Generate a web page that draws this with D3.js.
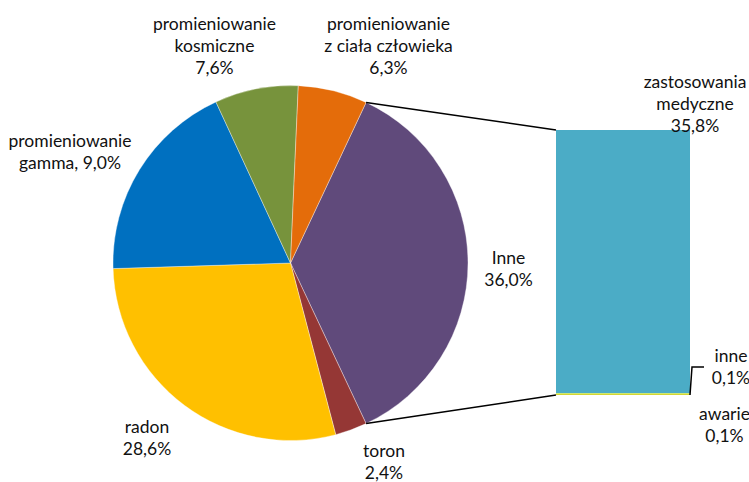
<!DOCTYPE html>
<html>
<head>
<meta charset="utf-8">
<script src="https://cdn.jsdelivr.net/npm/d3@7"></script>
<style>
  html, body { margin: 0; padding: 0; background: #fff; }
  svg { display: block; }
  text { font-family: Lato, "Open Sans", sans-serif; fill: #111; }
</style>
</head>
<body>
<svg id="chart" width="749" height="482"></svg>
<script>
// ---- data ----
const pieCategories = ["Inne", "toron", "radon", "promieniowanie gamma", "promieniowanie kosmiczne", "promieniowanie z ciała człowieka"];
const pieValues = [36.0, 2.9, 28.6, 18.6, 7.6, 6.3];
const pieLabelLines = [
  ["Inne", "36,0%"],
  ["toron", "2,4%"],
  ["radon", "28,6%"],
  ["promieniowanie", "gamma, 9,0%"],
  ["promieniowanie", "kosmiczne", "7,6%"],
  ["promieniowanie", "z ciała człowieka", "6,3%"]
];
const pieColors = ["#604A7B", "#953735", "#FFC000", "#0070C0", "#77933C", "#E46C0A"];

const barCategories = ["zastosowania medyczne", "inne", "awarie"];
const barValues = [35.8, 0.1, 0.1];
const barLabelLines = [
  ["zastosowania", "medyczne", "35,8%"],
  ["inne", "0,1%"],
  ["awarie", "0,1%"]
];
const barColors = ["#4BACC6", "#FFFF00", "#C8C800"];

// ---- layout ----
const svg = d3.select("#chart");
const cx = 290.5, cy = 263, R = 177.5;
const fontSize = 17.5, lineH = 22;

const total = d3.sum(pieValues);
const inneSpan = pieValues[0] / total * 2 * Math.PI;
const start = Math.PI / 2 - inneSpan / 2;

const pie = d3.pie().sort(null).value(d => d)
  .startAngle(start).endAngle(start + 2 * Math.PI);
const arcs = pie(pieValues);
const arc = d3.arc().innerRadius(0).outerRadius(R);

const g = svg.append("g").attr("transform", `translate(${cx},${cy})`);
g.selectAll("path").data(arcs).join("path")
  .attr("d", arc)
  .attr("fill", (d, i) => pieColors[i])
  .attr("stroke", "#ffffff")
  .attr("stroke-width", 0.6)
  .attr("stroke-opacity", 0.6);

// ---- bar (second plot) ----
const barX0 = 556, barX1 = 690;
const barTotal = d3.sum(barValues);
const y = d3.scaleLinear().domain([0, barTotal]).range([395, 130]);
let cum = 0;
const barStack = barValues.map((v, i) => {
  const s = { i, top: y(barTotal - cum), bottom: y(barTotal - cum - v) };
  cum += v;
  return s;
});
svg.append("g").selectAll("rect").data(barStack).join("rect")
  .attr("x", barX0)
  .attr("width", barX1 - barX0)
  .attr("y", d => d.top)
  .attr("height", d => Math.max(d.bottom - d.top, 0))
  .attr("fill", d => barColors[d.i]);

// ---- connector lines ----
const a0 = arcs[0].startAngle, a1 = arcs[0].endAngle;
const p0 = [cx + R * Math.sin(a0), cy - R * Math.cos(a0)];
const p1 = [cx + R * Math.sin(a1), cy - R * Math.cos(a1)];
svg.append("line").attr("x1", p0[0]).attr("y1", p0[1]).attr("x2", barX0).attr("y2", y(barTotal))
  .attr("stroke", "#000").attr("stroke-width", 1.5);
svg.append("line").attr("x1", p1[0]).attr("y1", p1[1]).attr("x2", barX0).attr("y2", y(0))
  .attr("stroke", "#000").attr("stroke-width", 1.5);

// leader line for "inne"
svg.append("path")
  .attr("d", d3.line()([[barX1, y(0)], [692, 367], [704, 367]]))
  .attr("fill", "none").attr("stroke", "#000").attr("stroke-width", 1.5);

// ---- labels ----
const pieLabelPos = [
  [508.5, 264], [384, 457], [147, 433], [70, 146.5], [214.5, 29.5], [388.5, 29.5]
];
const barLabelPos = [[695, 87.5], [731, 362], [724.5, 420]];

function drawLabel(lines, pos) {
  const t = svg.append("text")
    .attr("text-anchor", "middle")
    .attr("font-size", fontSize);
  lines.forEach((ln, k) => {
    t.append("tspan").attr("x", pos[0]).attr("y", pos[1] + k * lineH).text(ln);
  });
}
pieLabelLines.forEach((l, i) => drawLabel(l, pieLabelPos[i]));
barLabelLines.forEach((l, i) => drawLabel(l, barLabelPos[i]));
</script>
</body>
</html>
